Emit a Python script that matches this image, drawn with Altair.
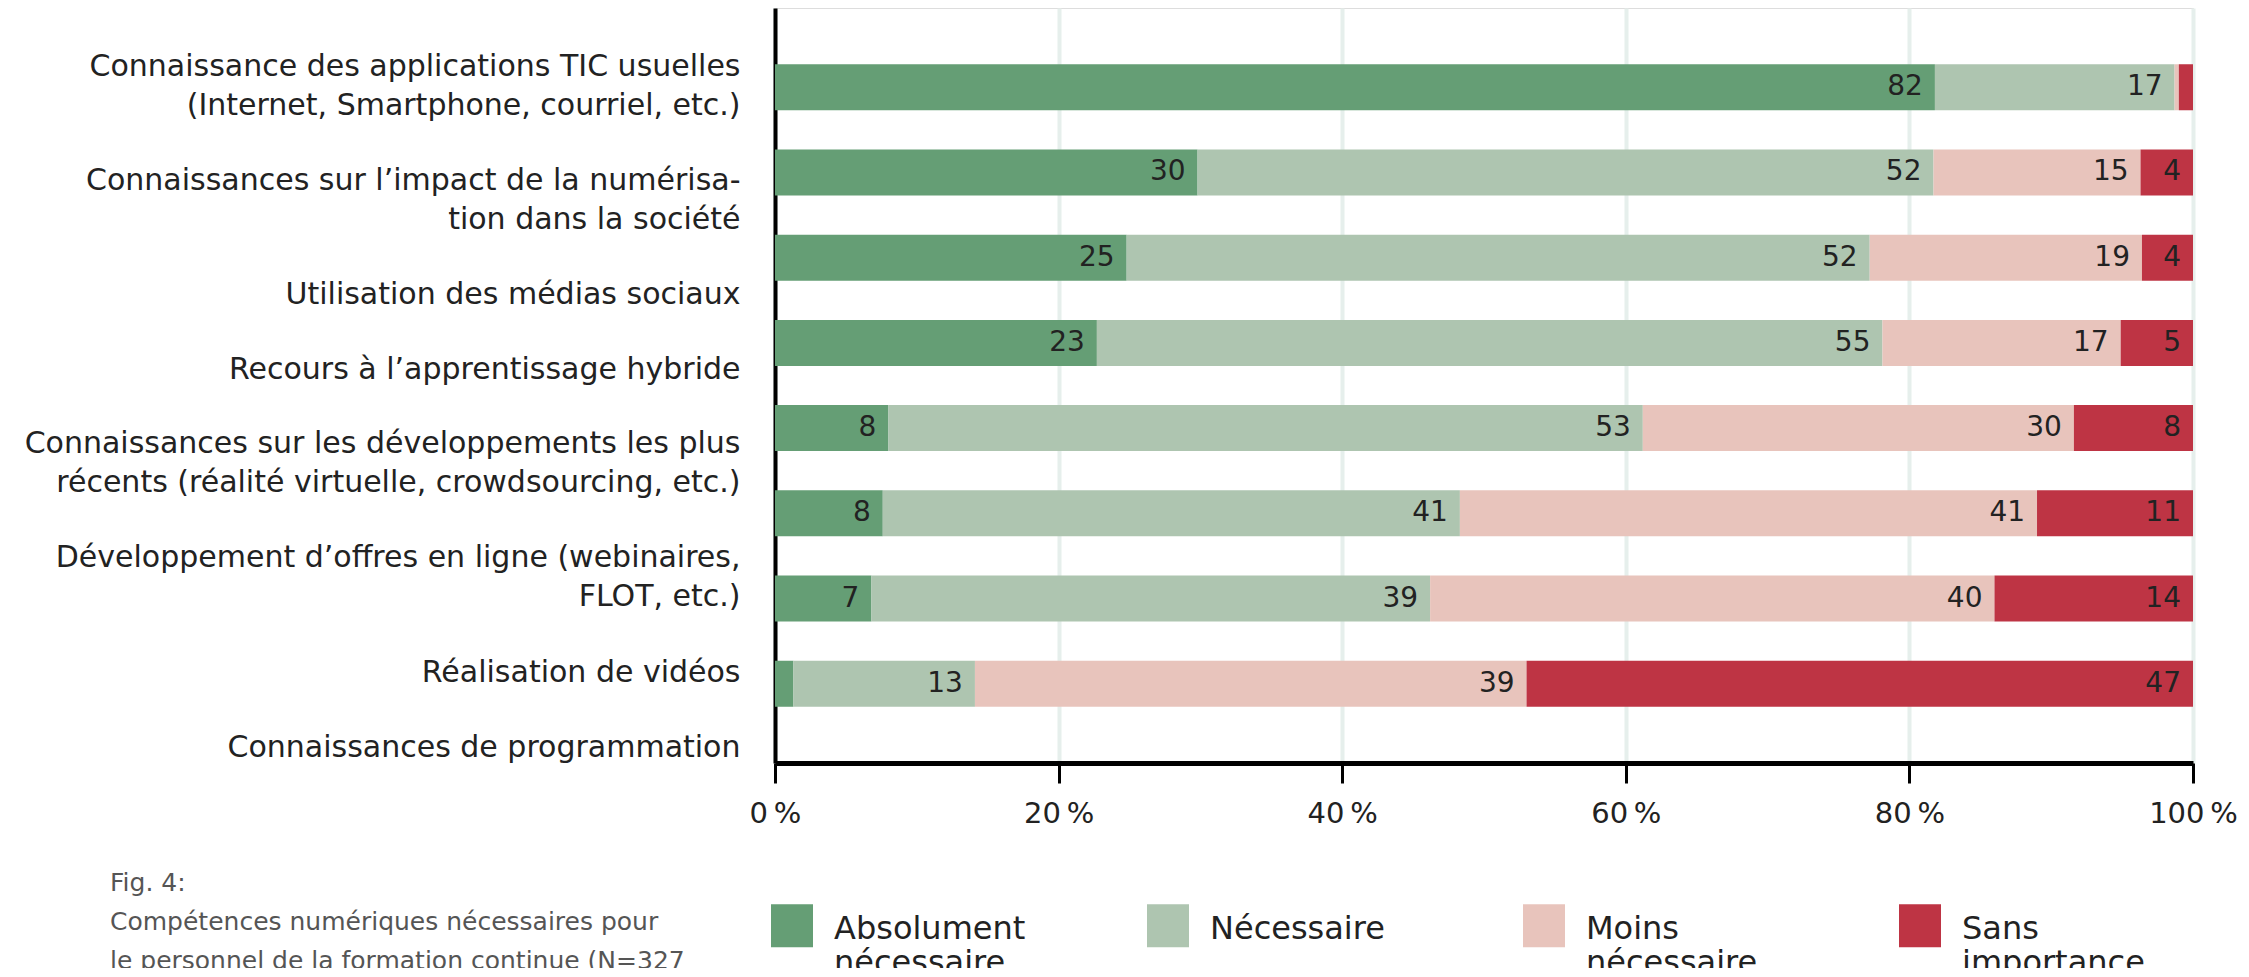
import altair as alt
import pandas as pd

ROWS = [
    "Connaissance des applications TIC usuelles\n(Internet, Smartphone, courriel, etc.)",
    "Connaissances sur l’impact de la numérisa-\ntion dans la société",
    "Utilisation des médias sociaux",
    "Recours à l’apprentissage hybride",
    "Connaissances sur les développements les plus\nrécents (réalité virtuelle, crowdsourcing, etc.)",
    "Développement d’offres en ligne (webinaires,\nFLOT, etc.)",
    "Réalisation de vidéos",
    "Connaissances de programmation",
]
LEVELS = ["Absolument\nnécessaire", "Nécessaire", "Moins\nnécessaire", "Sans\nimportance"]
ABSOLUMENT = [81.8, 29.8, 24.8, 22.7, 8.0, 7.6, 6.8, 1.3]
NECESSAIRE = [16.9, 51.9, 52.4, 55.4, 53.2, 40.7, 39.4, 12.8]
MOINS = [0.3, 14.6, 19.2, 16.8, 30.4, 40.7, 39.8, 38.9]
SANS = [1.0, 3.7, 3.6, 5.1, 8.4, 11.0, 14.0, 47.0]
X_TICKS = [0, 20, 40, 60, 80, 100]
CAPTION = [
    "Fig. 4:",
    "Compétences numériques nécessaires pour",
    "le personnel de la formation continue (N=327",
]

# styling
COLORS = ["#659E75", "#AEC5B0", "#E8C4BC", "#BE3444"]
LABEL_SHIFT = [-20, 9, 37, 27, 16, 45, 74, 64]
FONT = "DejaVu Sans"

records = []
for i, row in enumerate(ROWS):
    for j, (lvl, series) in enumerate(zip(LEVELS, [ABSOLUMENT, NECESSAIRE, MOINS, SANS])):
        records.append({"row": row, "level": lvl, "order": j, "value": series[i]})
df = pd.DataFrame(records)

shift_expr = "[" + ",".join(str(s) for s in LABEL_SHIFT) + "][indexof(domain('y'), datum.value)]"

y_enc = alt.Y(
    "row:N",
    sort=ROWS,
    scale=alt.Scale(domain=ROWS, paddingInner=0.46, paddingOuter=0.66),
    axis=alt.Axis(
        title=None,
        labelExpr="split(datum.label, '\\n')",
        labelFont=FONT,
        labelFontSize=30,
        labelColor="#222222",
        labelLineHeight=39,
        labelPadding=35,
        labelLimit=1000,
        labelAlign="right",
        labelBaseline="middle",
        labelOffset={"expr": shift_expr},
        ticks=False,
        domainColor="#000000",
        domainWidth=4,
        grid=False,
    ),
)

x_scale = alt.Scale(domain=[0, 100], nice=False, zero=True)

base = alt.Chart(df).transform_stack(
    stack="value", groupby=["row"], as_=["start", "end"], sort=[alt.SortField("order")]
)

bars = base.mark_bar(strokeWidth=0).encode(
    y=y_enc,
    x=alt.X(
        "start:Q",
        scale=x_scale,
        axis=alt.Axis(
            title=None,
            values=X_TICKS,
            labelExpr="datum.value + '\u2009%'",
            labelFont=FONT,
            labelFontSize=29,
            labelColor="#222222",
            labelPadding=16,
            labelFlush=False,
            tickSize=20,
            tickWidth=3,
            tickColor="#000000",
            domainColor="#000000",
            domainWidth=5,
            grid=True,
            gridColor="#E6EFEC",
            gridWidth=4,
        ),
    ),
    x2="end:Q",
    color=alt.Color(
        "level:N",
        scale=alt.Scale(domain=LEVELS, range=COLORS),
        legend=alt.Legend(
            title=None,
            orient="none",
            legendX=-4,
            legendY=885,
            direction="horizontal",
            columns=4,
            gridAlign="all",
            columnPadding=121,
            symbolType="M-1,-0.47H1V1.58H-1Z",
            symbolSize=1764,
            symbolStrokeWidth=0,
            symbolOpacity=1,
            labelExpr="split(indexof(datum.label, '\\n') < 0 ? datum.label + '\\n ' : datum.label, '\\n')",
            labelFont=FONT,
            labelFontSize=32,
            labelColor="#222222",
            labelBaseline="top",
            labelOffset=21,
            labelLimit=600,
        ),
    ),
    order=alt.Order("order:Q"),
)

labels = base.transform_filter("datum.value >= 2").mark_text(
    align="right", baseline="middle", dx=-12, font=FONT, fontSize=28, color="#222222"
).encode(
    y=alt.Y("row:N", sort=ROWS),
    x=alt.X("end:Q", scale=x_scale),
    text=alt.Text("value:Q", format=".0f"),
)

chart = (
    alt.layer(bars, labels)
    .properties(
        width=1418,
        height=755,
        autosize=alt.AutoSizeParams(type="none"),
        padding={"left": 767, "top": 0, "right": 46, "bottom": 205},
        title=alt.TitleParams(
            text=CAPTION,
            orient="top",
            anchor="start",
            frame="group",
            dx=-665,
            offset=-966,
            baseline="top",
            font=FONT,
            fontSize=25,
            fontWeight="normal",
            color="#555555",
            lineHeight=39,
        ),
    )
    .configure_view(stroke=None)
    .configure(background="white")
)

chart.save("out.html", embed_options={"renderer": "svg", "actions": False})
